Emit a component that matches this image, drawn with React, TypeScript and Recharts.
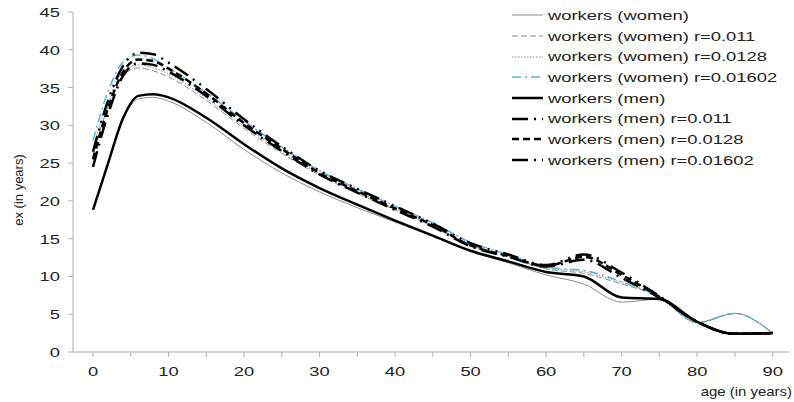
import React from "react";
import { Line, LineChart, XAxis, YAxis } from "recharts";

const ages = [0, 2, 4, 6, 8, 10, 15, 20, 25, 30, 35, 40, 45, 50, 55, 60, 65, 70, 75, 80, 85, 90];

const womenBase = [18.8, 25.0, 30.8, 33.5, 33.7, 33.2, 30.4, 26.8, 23.7, 21.2, 19.1, 17.2, 15.3, 13.3, 11.8, 10.2, 9.0, 6.6, 7.0, 3.9, 5.1, 2.5];
const women011 = [26.0, 32.5, 36.6, 37.6, 37.2, 36.4, 33.3, 29.6, 26.3, 23.4, 21.0, 18.8, 16.6, 14.1, 12.6, 11.0, 10.4, 9.0, 7.3, 3.9, 5.1, 2.5];
const women0128 = [27.0, 33.2, 37.1, 38.0, 37.6, 36.8, 33.6, 29.9, 26.6, 23.6, 21.2, 19.0, 16.8, 14.2, 12.7, 11.1, 10.6, 9.2, 7.3, 3.9, 5.1, 2.5];
const women01602 = [28.0, 34.5, 38.4, 39.3, 38.8, 37.6, 34.3, 30.6, 27.1, 24.0, 21.6, 19.3, 17.1, 14.5, 12.9, 11.2, 10.8, 9.3, 7.3, 3.9, 5.1, 2.5];
const menBase = [18.8, 25.0, 31.0, 33.9, 34.1, 33.7, 31.0, 27.5, 24.3, 21.7, 19.5, 17.4, 15.4, 13.4, 12.0, 10.6, 10.0, 7.2, 7.0, 4.0, 2.4, 2.5];
const men011 = [24.5, 31.5, 36.6, 38.2, 38.0, 37.1, 33.9, 30.0, 26.6, 23.5, 21.1, 18.8, 16.6, 14.0, 12.6, 11.3, 12.2, 9.8, 7.2, 4.0, 2.4, 2.5];
const men0128 = [25.5, 32.3, 37.1, 38.7, 38.5, 37.5, 34.2, 30.3, 26.9, 23.7, 21.3, 19.0, 16.8, 14.1, 12.7, 11.4, 12.6, 10.2, 7.3, 4.0, 2.4, 2.5];
const men01602 = [26.5, 33.3, 37.9, 39.6, 39.4, 38.3, 34.8, 30.8, 27.2, 24.0, 21.6, 19.3, 17.0, 14.4, 12.9, 11.5, 12.9, 10.5, 7.4, 4.0, 2.4, 2.5];

const xTicks = [0, 5, 10, 15, 20, 25, 30, 35, 40, 45, 50, 55, 60, 65, 70, 75, 80, 85, 90];
const yTicks = [0, 5, 10, 15, 20, 25, 30, 35, 40, 45];

const series = [
  { key: "w", name: "workers (women)", values: womenBase, color: "#8c8c8c", width: 1, dash: undefined },
  { key: "w1", name: "workers (women) r=0.011", values: women011, color: "#8c8c8c", width: 1, dash: "6 3" },
  { key: "w2", name: "workers (women) r=0.0128", values: women0128, color: "#8c8c8c", width: 1, dash: "1.5 1.5" },
  { key: "w3", name: "workers (women) r=0.01602", values: women01602, color: "#5ab4e0", width: 1.5, dash: "9 4 2 4" },
  { key: "m", name: "workers (men)", values: menBase, color: "#000000", width: 2.5, dash: undefined },
  { key: "m1", name: "workers (men) r=0.011", values: men011, color: "#000000", width: 2.5, dash: "16 6 2 6" },
  { key: "m2", name: "workers (men) r=0.0128", values: men0128, color: "#000000", width: 2.5, dash: "7 4" },
  { key: "m3", name: "workers (men) r=0.01602", values: men01602, color: "#000000", width: 2.5, dash: "16 6 2 6 2 6" },
];

const data = ages.map((age, i) => {
  const row: Record<string, number> = { age };
  series.forEach((s) => {
    row[s.key] = s.values[i];
  });
  return row;
});

const font = "'Liberation Sans', Arial, sans-serif";
const stretch = 1.36; // the original text is drawn wide

const XTick = ({ x, y, payload }: any) =>
  payload.value % 10 === 0 ? (
    <text
      transform={`translate(${x},${y + 19}) scale(${stretch},1)`}
      textAnchor="middle"
      fontSize={13.5}
      fill="#222"
      fontFamily={font}
    >
      {payload.value}
    </text>
  ) : (
    <g />
  );

const YTick = ({ y, payload }: any) => (
  <text
    transform={`translate(60,${y + 5}) scale(${stretch},1)`}
    textAnchor="end"
    fontSize={13.5}
    fill="#222"
    fontFamily={font}
  >
    {payload.value}
  </text>
);

const LegendBox = () => (
  <div
    style={{
      position: "absolute",
      left: 512,
      top: 5,
      fontFamily: font,
      fontSize: 13.5,
      color: "#222",
      whiteSpace: "nowrap",
    }}
  >
    {series.map((s) => (
      <div key={s.key} style={{ display: "flex", alignItems: "center", height: 20.7 }}>
        <svg width={36} height={10} style={{ flex: "none" }}>
          <line
            x1={0}
            y1={5}
            x2={31}
            y2={5}
            stroke={s.color}
            strokeWidth={s.width}
            strokeDasharray={s.dash}
          />
        </svg>
        <span style={{ display: "inline-block", transform: `scaleX(${stretch})`, transformOrigin: "left center" }}>
          {s.name}
        </span>
      </div>
    ))}
  </div>
);

export default function App() {
  return (
    <div style={{ position: "absolute", left: 0, top: 0, width: 794, height: 402, background: "#fff" }}>
      <LineChart width={794} height={402} data={data} margin={{ top: 12, right: 4, bottom: 0, left: 0 }}>
        <XAxis
          dataKey="age"
          type="number"
          domain={[-2.65, 92.3]}
          ticks={xTicks}
          interval={0}
          height={50}
          tick={<XTick />}
          tickSize={5}
          tickMargin={0}
          axisLine={{ stroke: "#b0b0b0" }}
          tickLine={{ stroke: "#b0b0b0" }}
          label={{
            content: () => (
              <text
                transform="translate(792,396) scale(1.15,1)"
                textAnchor="end"
                fontSize={13}
                fill="#222"
                fontFamily={font}
              >
                age (in years)
              </text>
            ),
          }}
        />
        <YAxis
          type="number"
          domain={[0, 45]}
          ticks={yTicks}
          interval={0}
          width={73}
          tick={<YTick />}
          tickSize={5}
          tickMargin={0}
          axisLine={{ stroke: "#b0b0b0" }}
          tickLine={{ stroke: "#b0b0b0" }}
          label={{
            content: () => (
              <text
                x={20}
                y={190}
                transform="rotate(-90 20 190)"
                textAnchor="middle"
                dominantBaseline="middle"
                fontSize={13}
                fill="#222"
                fontFamily={font}
              >
                ex (in years)
              </text>
            ),
          }}
        />
        {series.map((s) => (
          <Line
            key={s.key}
            dataKey={s.key}
            name={s.name}
            type="monotone"
            stroke={s.color}
            strokeWidth={s.width}
            strokeDasharray={s.dash}
            dot={false}
            activeDot={false}
            isAnimationActive={false}
          />
        ))}
      </LineChart>
      <LegendBox />
    </div>
  );
}
